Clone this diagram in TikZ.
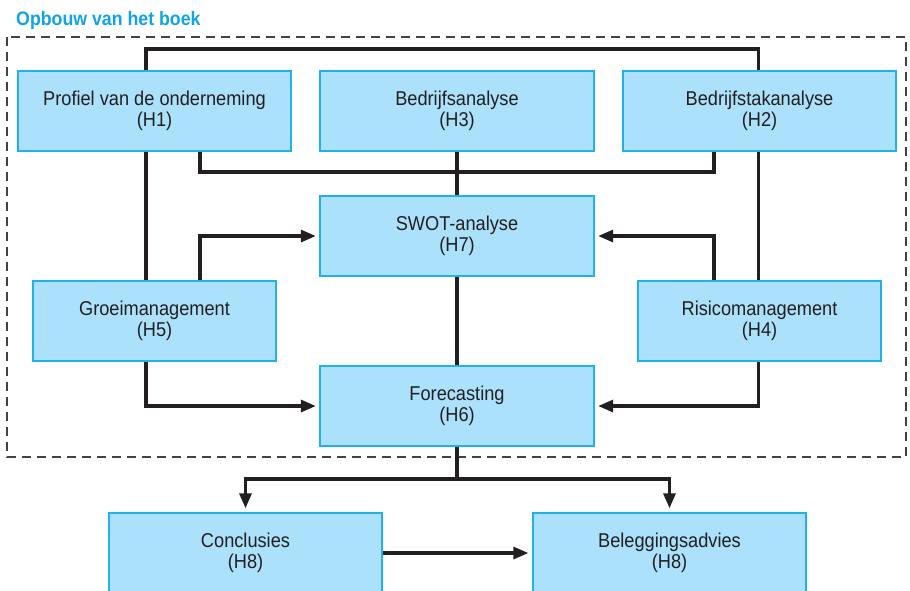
\documentclass[tikz,border=0pt]{standalone}
\usepackage{fontspec}
\setmainfont{Liberation Sans}[FakeStretch=0.91]
\usetikzlibrary{arrows.meta}
\definecolor{boxfill}{HTML}{ABE1FA}
\definecolor{boxline}{HTML}{21B0E8}
\definecolor{titleblue}{HTML}{0FA4E3}
\definecolor{ink}{HTML}{231F20}
\begin{document}
\begin{tikzpicture}[x=1pt,y=-1pt,
  chapter/.style={draw=boxline,line width=1.4pt,fill=boxfill,text=ink,
    minimum height=80pt,inner sep=0pt,align=center,
    font=\fontsize{20}{21}\selectfont},
  wide/.style={chapter,minimum width=273pt},
  narrow/.style={chapter,minimum width=243pt},
  link/.style={draw=ink,line width=3.2pt},
  flow/.style={link,-{Triangle[length=15pt,width=12pt]},shorten >=4pt},
  frame/.style={draw=ink!85,line width=1.3pt,dash pattern=on 9pt off 6pt}]

\clip (0,0) rectangle (910,590);

% title and dashed outline of the book part
\node[anchor=base west,inner sep=0pt,text=titleblue,
  font=\fontsize{19.5}{20}\selectfont\bfseries] (title) at (16,25.5) {Opbouw van het boek};
\draw[frame] (7,37) rectangle (906,457);

% chapter boxes
\node[wide] (h1) at (154.5,111) {Profiel van de onderneming\\(H1)};
\node[wide] (h3) at (457,111) {Bedrijfsanalyse\\(H3)};
\node[wide] (h2) at (759.5,111) {Bedrijfstakanalyse\\(H2)};
\node[wide] (h7) at (457,236) {SWOT-analyse\\(H7)};
\node[narrow] (h5) at (154.5,321) {Groeimanagement\\(H5)};
\node[narrow] (h4) at (759.5,321) {Risicomanagement\\(H4)};
\node[wide] (h6) at (457,406) {Forecasting\\(H6)};
\node[wide] (concl) at (245.5,553) {Conclusies\\(H8)};
\node[wide] (advies) at (669.5,553) {Beleggingsadvies\\(H8)};

% junction points of the connectors
\coordinate (topbar) at (457,49);
\coordinate (midbar) at (457,172);
\coordinate (split) at (457,479);

% connectors
\draw[link] ([xshift=-8.5]h1.north) |- (topbar) -| ([xshift=-1]h2.north);
\draw[link] ([xshift=45.5]h1.south) |- (midbar) -| ([xshift=-45.5]h2.south);
\draw[link] (h3.south) -- (h7.north);
\draw[link] ([xshift=-8.5]h1.south) -- ([xshift=-8.5]h5.north);
\draw[link] ([xshift=-1]h2.south) -- ([xshift=-1]h4.north);
\draw[flow] ([xshift=45.5]h5.north) |- (h7.west);
\draw[flow] ([xshift=-45.5]h4.north) |- (h7.east);
\draw[link] (h7.south) -- (h6.north);
\draw[flow] ([xshift=-8.5]h5.south) |- (h6.west);
\draw[flow] ([xshift=-1]h4.south) |- (h6.east);
\draw[link] (h6.south) -- (split);
\draw[flow] (split) -| (concl.north);
\draw[flow] (split) -| (advies.north);
\draw[flow] (concl.east) -- (advies.west);

% boxes drawn again so the connector ends sit under their borders
\foreach \n in {h1,h3,h2,h7,h5,h4,h6,concl,advies}{
  \draw[boxline,line width=1.4pt] (\n.north west) rectangle (\n.south east);}
\end{tikzpicture}
\end{document}
